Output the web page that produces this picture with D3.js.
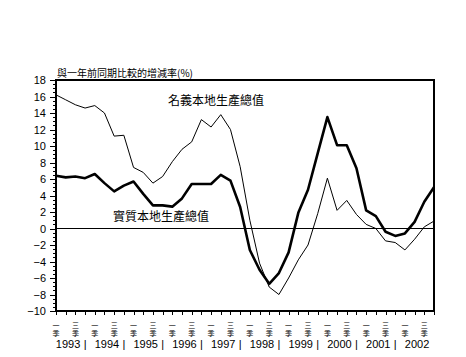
<!DOCTYPE html>
<html><head><meta charset="utf-8">
<script src="https://cdn.jsdelivr.net/npm/d3@7"></script>
<style>
body{margin:0;background:#fff;}
svg{display:block;}
text{fill:#000;}
</style></head>
<body>
<svg id="c" width="466" height="357"></svg>
<script>
const years = ["1993","1994","1995","1996","1997","1998","1999","2000","2001","2002"];
const quarterNames = ["一","二","三","四"];
const nominal = [16.2,15.6,15.0,14.6,14.9,14.0,11.2,11.3,7.4,6.8,5.5,6.3,8.1,9.6,10.5,13.2,12.3,13.8,12.0,7.5,
                 1.0,-4.2,-7.1,-8.0,-6.0,-3.8,-2.0,1.8,6.1,2.2,3.4,1.7,0.5,0.0,-1.5,-1.7,-2.6,-1.3,0.2,0.9];
const real = [6.4,6.2,6.3,6.1,6.6,5.5,4.5,5.2,5.7,4.2,2.8,2.8,2.65,3.65,5.4,5.4,5.4,6.5,5.8,2.6,
              -2.6,-5.0,-6.7,-5.4,-2.9,1.9,4.7,9.1,13.5,10.1,10.1,7.3,2.2,1.5,-0.4,-0.9,-0.6,0.8,3.25,5.0];
const yTicks = [-10,-8,-6,-4,-2,0,2,4,6,8,10,12,14,16,18];
const titleText = "與一年前同期比較的增減率(%)";
const nominalLabel = "名義本地生產總值";
const realLabel = "實質本地生產總值";

const svg = d3.select("#c");
const L = 56, R = 434, T = 80, B = 311;
const n = nominal.length;
const x = d3.scaleLinear().domain([0, n-1]).range([L, R]);
const y = d3.scaleLinear().domain([-10, 18]).range([B, T]);
const cjk = "'Noto Sans CJK TC','Noto Sans CJK SC',sans-serif";
const latin = "'Liberation Sans',Arial,sans-serif";

// minor y ticks
const minor = d3.range(-10, 18.001, 0.5);
const gMinor = svg.append("g").attr("transform", `translate(${L},0)`)
  .call(d3.axisLeft(y).tickValues(minor).tickSize(3).tickFormat(""));
gMinor.select(".domain").remove();
// major y ticks
const gY = svg.append("g").attr("transform", `translate(${L},0)`)
  .call(d3.axisLeft(y).tickValues(yTicks).tickSize(6).tickPadding(4).tickFormat(d3.format("d")));
gY.select(".domain").remove();
gY.selectAll("text").style("font-family", latin).style("font-size", "11px");
svg.selectAll(".tick line").attr("stroke", "#000").attr("shape-rendering","crispEdges");

// x ticks
const gX = svg.append("g").attr("transform", `translate(0,${B})`)
  .call(d3.axisBottom(x).tickValues(d3.range(n)).tickSize(4).tickFormat(""));
gX.select(".domain").remove();
gX.selectAll(".tick line").attr("stroke","#000").attr("shape-rendering","crispEdges");

// plot frame
svg.append("rect").attr("x", L).attr("y", T).attr("width", R-L).attr("height", B-T)
  .attr("fill","none").attr("stroke","#000").attr("stroke-width",1.2).attr("shape-rendering","crispEdges");

// zero line
svg.append("line").attr("x1", L).attr("x2", R).attr("y1", y(0)).attr("y2", y(0))
  .attr("stroke","#000").attr("stroke-width",1.2).attr("shape-rendering","crispEdges");

// quarter labels (一季 / 三季), stacked vertically
const qIdx = d3.range(n).filter(i => i % 2 === 0);
const qg = svg.append("g").style("font-family", cjk).style("font-size", "7px").attr("text-anchor","middle");
qIdx.forEach(i => {
  qg.append("text").attr("x", x(i)).attr("y", 327.5).text(quarterNames[i % 4]);
  qg.append("text").attr("x", x(i)).attr("y", 336).text("季");
});

// year labels with separators
const yg = svg.append("g").style("font-family", latin).style("font-size", "11px").attr("text-anchor","middle");
years.forEach((yr, k) => {
  yg.append("text").attr("x", x(4*k + 1.25)).attr("y", 348).text(yr);
  if (k < years.length - 1) yg.append("text").attr("x", x(4*k + 3)).attr("y", 348).text("|");
});

// lines
const line = d3.line().x((d,i) => x(i)).y(d => y(d));
svg.append("path").datum(nominal).attr("d", line).attr("fill","none").attr("stroke","#000").attr("stroke-width",1);
svg.append("path").datum(real).attr("d", line).attr("fill","none").attr("stroke","#000").attr("stroke-width",2.6).attr("stroke-linejoin","round");

// texts
svg.append("text").attr("x", 57).attr("y", 77).style("font-family", cjk).style("font-size","10px").text(titleText);
svg.append("text").attr("x", 168).attr("y", 105).style("font-family", cjk).style("font-size","12px").text(nominalLabel);
svg.append("text").attr("x", 113).attr("y", 221).style("font-family", cjk).style("font-size","12px").text(realLabel);
</script>
</body></html>
